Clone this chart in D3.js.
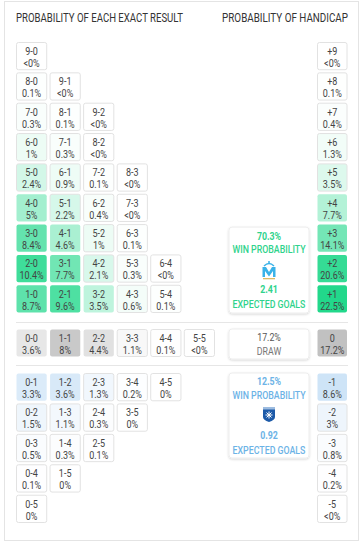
<!DOCTYPE html>
<html lang="en">
<head>
<meta charset="utf-8">
<title>Probability of each exact result</title>
<script src="https://d3js.org/d3.v7.min.js"></script>
<style>
  body { margin: 0; background: #fff; }
  svg text { font-family: Roboto, "Noto Sans", sans-serif; }
</style>
</head>
<body>
<div id="chart"></div>
<script>
// exact results, home wins (rows top to bottom)
var homeScores = [
  ["9-0"], ["8-0", "9-1"], ["7-0", "8-1", "9-2"], ["6-0", "7-1", "8-2"],
  ["5-0", "6-1", "7-2", "8-3"], ["4-0", "5-1", "6-2", "7-3"], ["3-0", "4-1", "5-2", "6-3"],
  ["2-0", "3-1", "4-2", "5-3", "6-4"], ["1-0", "2-1", "3-2", "4-3", "5-4"]
];
var homePct = [
  ["<0%"], ["0.1%", "<0%"], ["0.3%", "0.1%", "<0%"], ["1%", "0.3%", "<0%"],
  ["2.4%", "0.9%", "0.1%", "<0%"], ["5%", "2.2%", "0.4%", "<0%"], ["8.4%", "4.6%", "1%", "0.1%"],
  ["10.4%", "7.7%", "2.1%", "0.3%", "<0%"], ["8.7%", "9.6%", "3.5%", "0.6%", "0.1%"]
];
var drawScores = [["0-0", "1-1", "2-2", "3-3", "4-4", "5-5"]];
var drawPct = [["3.6%", "8%", "4.4%", "1.1%", "0.1%", "<0%"]];
var awayScores = [
  ["0-1", "1-2", "2-3", "3-4", "4-5"], ["0-2", "1-3", "2-4", "3-5"],
  ["0-3", "1-4", "2-5"], ["0-4", "1-5"], ["0-5"]
];
var awayPct = [
  ["3.3%", "3.6%", "1.3%", "0.2%", "0%"], ["1.5%", "1.1%", "0.3%", "0%"],
  ["0.5%", "0.3%", "0.1%"], ["0.1%", "0%"], ["0%"]
];

// handicap column
var homeHcp = ["+9", "+8", "+7", "+6", "+5", "+4", "+3", "+2", "+1"];
var homeHcpPct = ["<0%", "0.1%", "0.4%", "1.3%", "3.5%", "7.7%", "14.1%", "20.6%", "22.5%"];
var drawHcp = ["0"];
var drawHcpPct = ["17.2%"];
var awayHcp = ["-1", "-2", "-3", "-4", "-5"];
var awayHcpPct = ["8.6%", "3%", "0.8%", "0.2%", "<0%"];

// summaries
var homeSummary = { win: "70.3%", xg: "2.41" };
var drawSummary = { pct: "17.2%" };
var awaySummary = { win: "12.5%", xg: "0.92" };

var W = 362, H = 547;
var svg = d3.select("#chart").append("svg").attr("width", W).attr("height", H);

var defs = svg.append("defs");
var f = defs.append("filter").attr("id", "sh").attr("x", "-20%").attr("y", "-20%").attr("width", "140%").attr("height", "140%");
f.append("feDropShadow").attr("dx", 0).attr("dy", 1).attr("stdDeviation", 1.2).attr("flood-color", "#000").attr("flood-opacity", 0.16);

// card
svg.append("rect").attr("x", 4.5).attr("y", 1.5).attr("width", 354).attr("height", 539)
  .attr("fill", "#fff").attr("stroke", "#e4e4e4");

var colBase = { home: [24, 214, 134], draw: [170, 170, 170], away: [120, 180, 232] };
function num(s) { var v = parseFloat(s); return isNaN(v) ? 0 : v; }
function fillFor(kind, v, max) {
  var a = Math.min(1, v / max), c = colBase[kind];
  return d3.rgb(255 - a * (255 - c[0]), 255 - a * (255 - c[1]), 255 - a * (255 - c[2])).formatHex();
}

// narrow text: the reference face is condensed, so squeeze horizontally
var SX = 0.82;
function txt(g, tx, ty, str, o) {
  o = o || {};
  var t = g.append("text")
    .attr("transform", "translate(" + tx + "," + ty + ") scale(" + (o.sx || SX) + ",1)")
    .attr("text-anchor", o.anchor || "middle")
    .attr("font-size", o.size || 11)
    .attr("font-weight", o.weight || "normal")
    .attr("fill", o.fill || "#444")
    .text(str);
  return t;
}

var x = d3.scaleBand().domain(d3.range(6)).range([16, 215]).paddingInner(0.07);
var yHome = d3.scaleBand().domain(d3.range(9)).range([42, 313]).paddingInner(0.07);
var yDraw = d3.scaleBand().domain([0]).range([329, 357]);
var yAway = d3.scaleBand().domain(d3.range(5)).range([373, 523]).paddingInner(0.07);
var xHcp = 317, wHcp = 30.5;

function cell(g, kind, cx, cy, w, h, top, pct, max) {
  var v = num(pct), a = v / max;
  g.append("rect").attr("x", cx + 0.5).attr("y", cy + 0.5).attr("width", w - 1).attr("height", h - 1)
    .attr("rx", 2)
    .attr("fill", fillFor(kind, v, max))
    .attr("stroke", a < 0.2 ? "#e2e2e2" : "none");
  txt(g, cx + w / 2, cy + 13, top);
  txt(g, cx + w / 2, cy + 25, pct);
}

function grid(kind, scores, pcts, y) {
  var g = svg.append("g");
  scores.forEach(function(row, i) {
    row.forEach(function(s, j) {
      cell(g, kind, x(j), y(i), x.bandwidth(), y.bandwidth(), s, pcts[i][j], 12.5);
    });
  });
}
function hcp(kind, labels, pcts, y) {
  var g = svg.append("g");
  labels.forEach(function(l, i) {
    cell(g, kind, xHcp, y(i), wHcp, y.bandwidth(), l, pcts[i], 23.5);
  });
}

grid("home", homeScores, homePct, yHome);
grid("draw", drawScores, drawPct, yDraw);
grid("away", awayScores, awayPct, yAway);
hcp("home", homeHcp, homeHcpPct, yHome);
hcp("draw", drawHcp, drawHcpPct, yDraw);
hcp("away", awayHcp, awayHcpPct, yAway);

// headers, squeezed to the reference widths
function header(tx, str, anchor, width) {
  var t = txt(svg, tx, 22, str, { anchor: anchor, size: 12, fill: "#333", sx: 1 });
  var s = width / t.node().getComputedTextLength();
  t.attr("transform", "translate(" + tx + ",22) scale(" + s + ",1)");
}
header(16, "PROBABILITY OF EACH EXACT RESULT", "start", 167);
header(348, "PROBABILITY OF HANDICAP", "end", 126);

// separators
[322, 365].forEach(function(yy) {
  svg.append("line").attr("x1", 16).attr("x2", 348).attr("y1", yy + 0.5).attr("y2", yy + 0.5)
    .attr("stroke", "#e6e6e6");
});

// summary boxes
function box(y0, h) {
  svg.append("rect").attr("x", 229).attr("y", y0).attr("width", 80).attr("height", h)
    .attr("rx", 3).attr("fill", "#fff").attr("stroke", "#ededed").attr("filter", "url(#sh)");
}
function label(yy, str, col, weight) {
  txt(svg, 269, yy, str, { fill: col, weight: weight || 500, size: 11, sx: 0.8 });
}

var green = "#2fd38c", blue = "#6cb3e6";
var hTop = yHome(6) + 3;
box(hTop, yHome(8) + yHome.bandwidth() - hTop);
label(hTop + 13, homeSummary.win, green, "bold");
label(hTop + 26, "WIN PROBABILITY", green);
label(hTop + 66, homeSummary.xg, green, "bold");
label(hTop + 81, "EXPECTED GOALS", green);
// OM crest
var om = svg.append("g").attr("transform", "translate(269," + (hTop + 43) + ")");
om.append("path").attr("d", "M-6.5,7 L-6.5,-3 L-3,-3 L0,2 L3,-3 L6.5,-3 L6.5,7 L4,7 L4,1 L0,6.5 L-4,1 L-4,7 Z")
  .attr("fill", "#3ab2e8");
om.append("path").attr("d", "M-5,-4 Q0,-9 5,-4").attr("fill", "none").attr("stroke", "#3ab2e8").attr("stroke-width", 1.4);
om.append("circle").attr("cx", 0).attr("cy", -8).attr("r", 1).attr("fill", "#3ab2e8");
om.append("rect").attr("x", -6).attr("y", 8).attr("width", 12).attr("height", 1.2).attr("fill", "#d9b65a");

box(yDraw(0), 30);
label(yDraw(0) + 12, drawSummary.pct, "#555", "normal");
label(yDraw(0) + 26, "DRAW", "#777", "normal");

var aTop = yAway(0);
box(aTop, 85);
label(aTop + 12, awaySummary.win, blue, "bold");
label(aTop + 26, "WIN PROBABILITY", blue);
label(aTop + 66, awaySummary.xg, blue, "bold");
label(aTop + 81, "EXPECTED GOALS", blue);
// AJA crest
var aj = svg.append("g").attr("transform", "translate(269," + (aTop + 41) + ")");
aj.append("path").attr("d", "M-6,-7 L6,-7 L6,3 Q6,6 0,8 Q-6,6 -6,3 Z").attr("fill", "#1c5aa8");
aj.append("rect").attr("x", -6).attr("y", -7).attr("width", 12).attr("height", 2.5).attr("fill", "#9dbce0");
d3.range(4).forEach(function(k) {
  var ang = k * Math.PI / 4;
  aj.append("line").attr("x1", -3.5 * Math.cos(ang)).attr("y1", 1 - 3.5 * Math.sin(ang))
    .attr("x2", 3.5 * Math.cos(ang)).attr("y2", 1 + 3.5 * Math.sin(ang))
    .attr("stroke", "#fff").attr("stroke-width", 1);
});
</script>
</body>
</html>
